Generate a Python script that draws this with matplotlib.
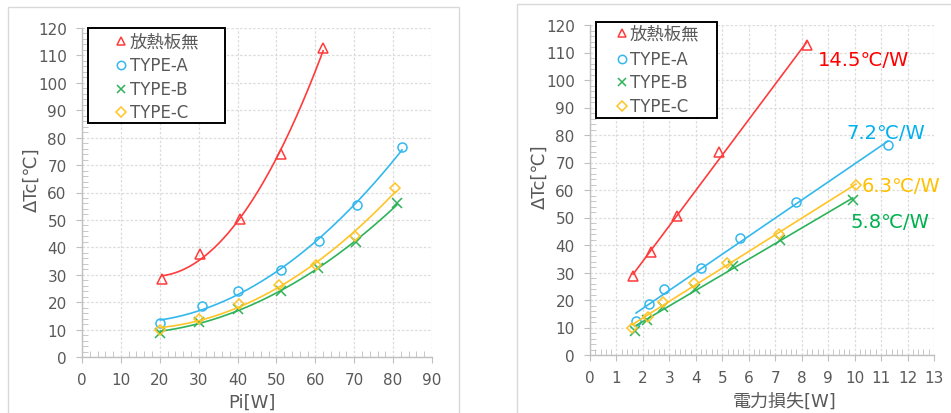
import matplotlib
matplotlib.use("Agg")
import matplotlib.pyplot as plt
import numpy as np
from matplotlib.ticker import MultipleLocator
from matplotlib.patches import Rectangle
from matplotlib.lines import Line2D

plt.rcParams['font.family'] = ['DejaVu Sans', 'Noto Sans CJK JP']

series_names = ['放熱板無', 'TYPE-A', 'TYPE-B', 'TYPE-C']
colors = ['#FF3B3B', '#33B8EE', '#2DB35A', '#FFC425']
markers = ['^', 'o', 'x', 'D']

# Left chart: Pi [W] vs ΔTc
pi_none = [20.6, 30.4, 40.5, 51.2, 62.0]
tc_none = [28.6, 37.5, 50.5, 73.9, 112.6]
pi_a = [20.1, 30.8, 40.1, 51.2, 60.9, 70.7, 82.3]
tc_a = [12.3, 18.5, 24.0, 31.8, 42.4, 55.5, 76.5]
pi_b = [20.1, 30.2, 40.2, 51.1, 60.7, 70.5, 81.1]
tc_b = [8.9, 12.8, 17.4, 24.1, 32.3, 41.8, 56.2]
pi_c = [20.1, 30.1, 40.3, 50.6, 60.2, 70.3, 80.6]
tc_c = [9.9, 13.8, 19.2, 26.2, 33.6, 44.0, 61.8]

# Right chart: power loss [W] vs ΔTc
loss_none = [1.63, 2.31, 3.28, 4.87, 8.2]
loss_a = [1.74, 2.23, 2.80, 4.19, 5.67, 7.78, 11.26]
loss_b = [1.70, 2.15, 2.77, 3.97, 5.40, 7.17, 9.93]
loss_c = [1.59, 2.20, 2.77, 3.94, 5.18, 7.15, 10.05]

slope_labels = ['14.5℃/W', '7.2℃/W', '6.3℃/W', '5.8℃/W']
slope_label_pos = [(8.62, 107.5), (9.67, 81.0), (10.28, 61.5), (9.86, 48.7)]
slope_label_colors = ['#FF0000', '#00B0F0', '#FFC000', '#00B050']

tick_color = '#595959'
W, H = 951, 414

fig = plt.figure(figsize=(9.51, 4.14), dpi=100)

def fx(px):
    return px / W

def fy(py):
    return 1 - py / H

# panel borders
fig.patches.append(Rectangle((fx(8), -0.05), fx(459) - fx(8), fy(8) + 0.05,
                             transform=fig.transFigure, fill=False,
                             edgecolor='#D9D9D9', linewidth=1.0))
fig.patches.append(Rectangle((fx(517), -0.05), 0.6, fy(5) + 0.05,
                             transform=fig.transFigure, fill=False,
                             edgecolor='#D9D9D9', linewidth=1.0))

ax1 = fig.add_axes([fx(82), fy(358), fx(432) - fx(82), fy(29) - fy(358)])
ax2 = fig.add_axes([fx(590), fy(356), fx(934) - fx(590), fy(26) - fy(356)])

left_x = [pi_none, pi_a, pi_b, pi_c]
right_x = [loss_none, loss_a, loss_b, loss_c]
ys = [tc_none, tc_a, tc_b, tc_c]

def msize(m):
    return 5.5 if m == 'D' else 6.5

def style(ax, xmax, xmajor, xminor):
    ax.set_xlim(0, xmax)
    ax.set_ylim(0, 120)
    ax.xaxis.set_major_locator(MultipleLocator(xmajor))
    ax.xaxis.set_minor_locator(MultipleLocator(xminor))
    ax.yaxis.set_major_locator(MultipleLocator(10))
    ax.yaxis.set_minor_locator(MultipleLocator(2))
    ax.grid(True, which='major', color='#DCDCDC', linestyle=(0, (2, 1.5)), linewidth=0.9)
    ax.set_axisbelow(True)
    for s in ['top', 'right']:
        ax.spines[s].set_visible(False)
    for s in ['left', 'bottom']:
        ax.spines[s].set_color('#BFBFBF')
        ax.spines[s].set_linewidth(1.0)
    ax.tick_params(which='major', direction='out', length=4, color='#BFBFBF',
                   labelcolor=tick_color, labelsize=11, pad=7)
    ax.tick_params(which='minor', direction='in', length=4, color='#BFBFBF')

for i in range(4):
    x = np.array(left_x[i]); y = np.array(ys[i])
    p = np.polyfit(x, y, 2)
    xx = np.linspace(x.min(), x.max(), 200)
    ax1.plot(xx, np.polyval(p, xx), color=colors[i], linewidth=1.2)
    ax1.plot(x, y, linestyle='none', marker=markers[i], markersize=msize(markers[i]),
             markerfacecolor='none' if markers[i] != 'x' else colors[i],
             markeredgecolor=colors[i], markeredgewidth=1.1)

for i in range(4):
    x = np.array(right_x[i]); y = np.array(ys[i])
    p = np.polyfit(x, y, 1)
    xx = np.linspace(x.min(), x.max(), 50)
    ax2.plot(xx, np.polyval(p, xx), color=colors[i], linewidth=1.2)
    ax2.plot(x, y, linestyle='none', marker=markers[i], markersize=msize(markers[i]),
             markerfacecolor='none' if markers[i] != 'x' else colors[i],
             markeredgecolor=colors[i], markeredgewidth=1.1)

style(ax1, 90, 10, 2)
style(ax2, 13, 1, 0.2)

# axis titles
fig.text(fx(252), fy(403), 'Pi[W]', color=tick_color, fontsize=13, ha='center', va='center')
fig.text(fx(32), fy(180), 'ΔTc[℃]', color=tick_color, fontsize=13, ha='center', va='center', rotation=90)
fig.text(fx(785), fy(402), '電力損失[W]', color=tick_color, fontsize=13, ha='center', va='center')
fig.text(fx(540), fy(177), 'ΔTc[℃]', color=tick_color, fontsize=13, ha='center', va='center', rotation=90)

for lab, (px, py), c in zip(slope_labels, slope_label_pos, slope_label_colors):
    ax2.text(px, py, lab, color=c, fontsize=14, va='center', ha='left', clip_on=False)

# legends drawn as boxes
def legend(box, marker_x, text_x, rows_y):
    x0, y0, x1, y1 = box
    fig.patches.append(Rectangle((fx(x0), fy(y1)), fx(x1) - fx(x0), fy(y0) - fy(y1),
                                 transform=fig.transFigure, facecolor='white',
                                 edgecolor='black', linewidth=1.4, zorder=5))
    for i in range(4):
        ms = 5.0 if markers[i] == 'D' else 6.0
        fig.lines.append(Line2D([fx(marker_x)], [fy(rows_y[i])], transform=fig.transFigure,
                                marker=markers[i], markersize=ms, linestyle='none',
                                markerfacecolor='none' if markers[i] != 'x' else colors[i],
                                markeredgecolor=colors[i], markeredgewidth=1.1, zorder=6))
        fs = 12.5 if i == 0 else 12
        fig.text(fx(text_x), fy(rows_y[i]), series_names[i], color=tick_color,
                 fontsize=fs, ha='left', va='center', zorder=6)

legend((88, 29, 225, 124), 121, 130, [42, 66, 90, 113])
legend((596, 23, 717, 119), 622, 630, [34, 60, 83, 107])

fig.savefig('out.png', dpi=100)
